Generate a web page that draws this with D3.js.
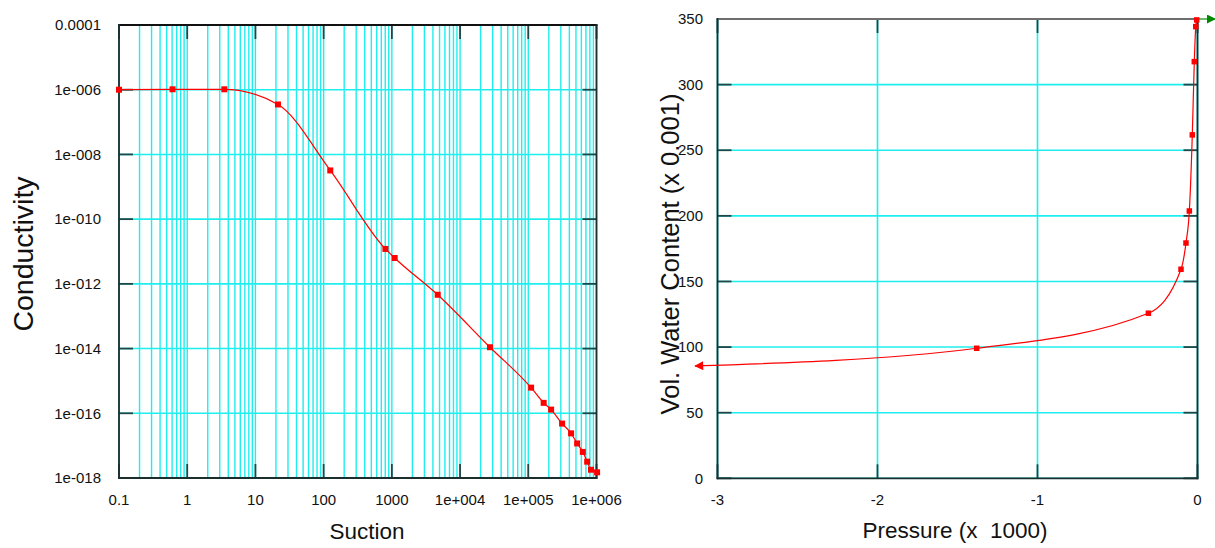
<!DOCTYPE html>
<html>
<head>
<meta charset="utf-8">
<script src="https://cdn.jsdelivr.net/npm/d3@7"></script>
<style>
  body { margin: 0; background: #fff; }
  svg { display: block; font-family: "Liberation Sans", Arial, sans-serif; }
</style>
</head>
<body>
<svg id="chart" width="1215" height="548"></svg>
<script>
// left plot: hydraulic conductivity vs suction
const suction = [0.1, 0.61, 3.5, 21.4, 125, 805, 1100, 4700, 27400, 110000, 168000, 216000,
  313000, 424000, 520000, 630000, 730000, 830000, 1020000];
const conductivity = [1.0e-6, 1.03e-6, 1.03e-6, 3.5e-7, 3.2e-9, 1.2e-11, 6.3e-12, 4.6e-13, 1.1e-14,
  6.2e-16, 2.1e-16, 1.3e-16, 4.8e-17, 2.4e-17, 1.17e-17, 6.4e-18, 3.2e-18, 1.8e-18, 1.5e-18];
const suctionTicks = [0.1, 1, 10, 100, 1000, 1e4, 1e5, 1e6];
const suctionLabels = ['0.1', '1', '10', '100', '1000', '1e+004', '1e+005', '1e+006'];
const condTicks = [1e-18, 1e-16, 1e-14, 1e-12, 1e-10, 1e-8, 1e-6, 1e-4];
const condLabels = ['1e-018', '1e-016', '1e-014', '1e-012', '1e-010', '1e-008', '1e-006', '0.0001'];

// right plot: water content function (pressure x 1000, content x 0.001)
const pressure = [-1.38, -0.307, -0.103, -0.072, -0.051, -0.0325, -0.02, -0.011, -0.005];
const waterContent = [99.1, 125.8, 159.3, 179.3, 203.7, 261.7, 317.5, 344.2, 349.3];
const dryEnd = [-3.14, 85.6];          // where the red curve arrow ends
const wetEndX = [0, 0.11];             // green saturation arrow
const wetEndY = [350, 350];
const pressureTicks = [-3, -2, -1, 0];
const contentTicks = [0, 50, 100, 150, 200, 250, 300, 350];

const svg = d3.select('#chart');
const gridColor = '#1feeee';
const tickColor = '#1f4747';
const tickLen = 14;

const defs = svg.append('defs');
const addArrow = (id, color) => {
  defs.append('marker')
    .attr('id', id)
    .attr('viewBox', '0 0 10 10')
    .attr('refX', 9).attr('refY', 5)
    .attr('markerWidth', 10).attr('markerHeight', 9)
    .attr('markerUnits', 'userSpaceOnUse')
    .attr('orient', 'auto-start-reverse')
    .append('path')
    .attr('d', 'M0,0 L10,5 L0,10 Z')
    .attr('fill', color);
};
addArrow('arrowRed', '#ff0000');
addArrow('arrowGreen', '#008800');

const drawFrame = (g, x0, x1, y0, y1, topColor) => {
  const side = (a, b, c, d, col) => g.append('line')
    .attr('x1', a).attr('x2', b).attr('y1', c).attr('y2', d)
    .attr('stroke', col).attr('stroke-width', 1.8).attr('stroke-linecap', 'square');
  side(x0, x1, y0, y0, topColor);
  side(x0, x1, y1, y1, '#1a2e2e');
  side(x0, x0, y0, y1, '#1a2e2e');
  side(x1, x1, y0, y1, '#1a2e2e');
};

const drawTicks = (g, xs, ys, x0, x1, y0, y1) => {
  const tick = (a, b, c, d) => g.append('line')
    .attr('x1', a).attr('x2', b).attr('y1', c).attr('y2', d)
    .attr('stroke', tickColor).attr('stroke-width', 1.8);
  xs.forEach(px => {
    tick(px, px, y1, y1 - tickLen);
    tick(px, px, y0, y0 + tickLen);
  });
  ys.forEach(py => {
    tick(x0, x0 + tickLen, py, py);
    tick(x1, x1 - tickLen, py, py);
  });
};

const drawMarkers = (g, pts, size) => {
  g.selectAll('rect.pt').data(pts).enter().append('rect')
    .attr('class', 'pt')
    .attr('x', d => d[0] - size / 2)
    .attr('y', d => d[1] - size / 2)
    .attr('width', size).attr('height', size)
    .attr('fill', '#ff0000');
};

// ---------- left chart ----------
const drawConductivity = () => {
  const x = d3.scaleLog().domain([0.1, 1e6]).range([119, 596.5]);
  const y = d3.scaleLog().domain([1e-18, 1e-4]).range([478, 25]);
  const g = svg.append('g');

  // vertical grid at every 1..9 x 10^k
  const minor = [];
  for (let e = -1; e < 6; e++) {
    for (let m = 1; m < 10; m++) minor.push(m * Math.pow(10, e));
  }
  minor.push(1e6);
  g.selectAll('line.vg').data(minor).enter().append('line')
    .attr('x1', d => x(d)).attr('x2', d => x(d))
    .attr('y1', y.range()[1]).attr('y2', y.range()[0])
    .attr('stroke', gridColor).attr('stroke-width', 1.4);
  g.selectAll('line.hg').data(condTicks).enter().append('line')
    .attr('x1', x.range()[0]).attr('x2', x.range()[1])
    .attr('y1', d => y(d)).attr('y2', d => y(d))
    .attr('stroke', gridColor).attr('stroke-width', 1.6);

  drawTicks(g, suctionTicks.map(x), condTicks.map(y), x.range()[0], x.range()[1], y.range()[1], y.range()[0]);
  drawFrame(g, x.range()[0], x.range()[1], y.range()[1], y.range()[0], '#111');

  g.selectAll('text.xl').data(suctionTicks).enter().append('text')
    .attr('x', d => x(d)).attr('y', 505)
    .attr('text-anchor', 'middle').attr('font-size', 15).attr('fill', '#111')
    .text((d, i) => suctionLabels[i]);
  g.selectAll('text.yl').data(condTicks).enter().append('text')
    .attr('x', 101).attr('y', d => y(d)).attr('dy', '0.35em')
    .attr('text-anchor', 'end').attr('font-size', 15).attr('fill', '#111')
    .text((d, i) => condLabels[i]);

  g.append('text').attr('x', 367).attr('y', 539).attr('text-anchor', 'middle')
    .attr('font-size', 22.5).attr('fill', '#111').text('Suction');
  g.append('text').attr('transform', 'translate(33,254) rotate(-90)').attr('text-anchor', 'middle')
    .attr('font-size', 28.5).attr('fill', '#111').text('Conductivity');

  const pts = suction.map((s, i) => [x(s), y(conductivity[i])]);
  g.append('path')
    .attr('d', d3.line().curve(d3.curveMonotoneX)(pts))
    .attr('fill', 'none').attr('stroke', '#ff0000').attr('stroke-width', 1.2);
  drawMarkers(g, pts, 6);
};

// ---------- right chart ----------
const drawWaterContent = () => {
  const x = d3.scaleLinear().domain([-3, 0]).range([717.5, 1197.5]);
  const y = d3.scaleLinear().domain([0, 350]).range([478.3, 19]);
  const g = svg.append('g');

  g.selectAll('line.vg').data(pressureTicks).enter().append('line')
    .attr('x1', d => x(d)).attr('x2', d => x(d))
    .attr('y1', y.range()[1]).attr('y2', y.range()[0])
    .attr('stroke', gridColor).attr('stroke-width', 1.6);
  g.selectAll('line.hg').data(contentTicks).enter().append('line')
    .attr('x1', x.range()[0]).attr('x2', x.range()[1])
    .attr('y1', d => y(d)).attr('y2', d => y(d))
    .attr('stroke', gridColor).attr('stroke-width', 1.6);

  drawTicks(g, pressureTicks.map(x), contentTicks.map(y), x.range()[0], x.range()[1], y.range()[1], y.range()[0]);
  drawFrame(g, x.range()[0], x.range()[1], y.range()[1], y.range()[0], '#6e6e6e');

  g.selectAll('text.xl').data(pressureTicks).enter().append('text')
    .attr('x', d => x(d)).attr('y', 505)
    .attr('text-anchor', 'middle').attr('font-size', 15).attr('fill', '#111')
    .text(d => String(d));
  g.selectAll('text.yl').data(contentTicks).enter().append('text')
    .attr('x', 703).attr('y', d => y(d)).attr('dy', '0.35em')
    .attr('text-anchor', 'end').attr('font-size', 15).attr('fill', '#111')
    .text(d => d);

  g.append('text').attr('x', 955).attr('y', 538).attr('text-anchor', 'middle')
    .attr('font-size', 22.5).attr('fill', '#111')
    .style('white-space', 'pre').text('Pressure (x  1000)');
  g.append('text').attr('transform', 'translate(679,254) rotate(-90)').attr('text-anchor', 'middle')
    .attr('font-size', 25.5).attr('fill', '#111').text('Vol. Water Content (x 0.001)');

  // green saturation arrow
  const wet = wetEndX.map((p, i) => [x(p), y(wetEndY[i])]);
  g.append('path').attr('d', d3.line()(wet))
    .attr('fill', 'none').attr('stroke', '#3aa63a').attr('stroke-width', 1.5)
    .attr('marker-end', 'url(#arrowGreen)');

  const pts = [[x(dryEnd[0]), y(dryEnd[1])]].concat(pressure.map((p, i) => [x(p), y(waterContent[i])]));
  g.append('path')
    .attr('d', d3.line().curve(d3.curveMonotoneX)(pts))
    .attr('fill', 'none').attr('stroke', '#ff0000').attr('stroke-width', 1.2)
    .attr('marker-start', 'url(#arrowRed)');
  drawMarkers(g, pts.slice(1), 5.5);
};

drawConductivity();
drawWaterContent();
</script>
</body>
</html>
